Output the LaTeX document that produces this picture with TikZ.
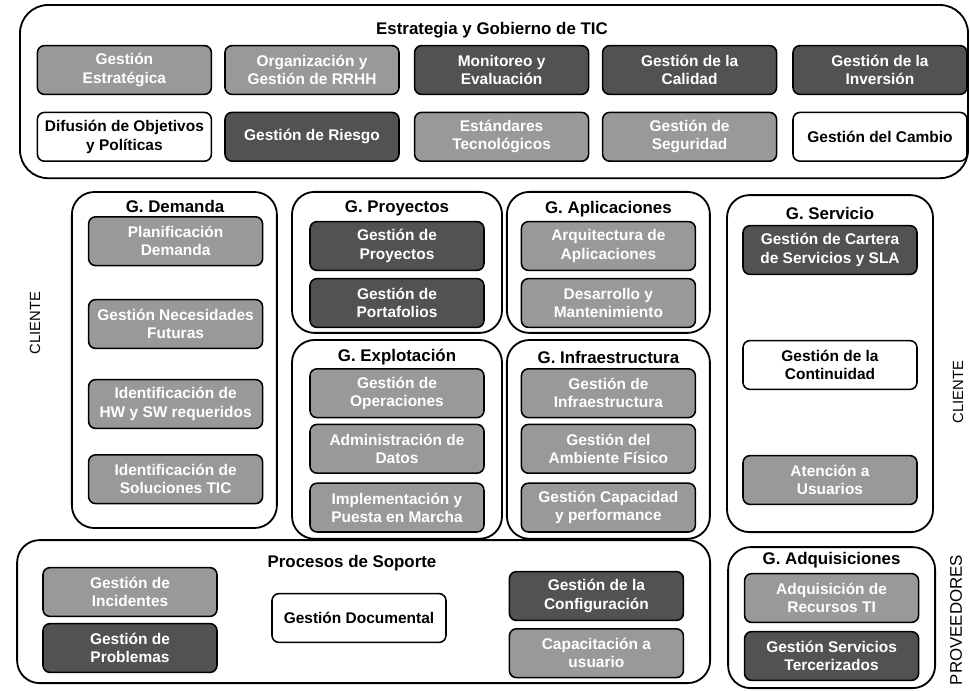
\documentclass[tikz,border=0pt]{standalone}
\usepackage{fontspec}
\setmainfont{Liberation Sans}
\begin{document}
\begin{tikzpicture}[
        proc/.style={draw, rectangle, rounded corners=5pt, line width=1.1pt, minimum width=4.35cm, minimum height=1.22cm, align=center, inner sep=2pt, font=\fontsize{11}{13}\selectfont\bfseries},
        oscuro/.style={proc, fill=black!68, text=white},
        claro/.style={proc, fill=black!40, text=white},
        blanco/.style={proc, fill=white},
        grupo/.style={draw, rectangle, rounded corners=16pt, line width=1.3pt},
        titulo/.style={font=\fontsize{12}{14}\selectfont\bfseries},
        lado/.style={rotate=90, font=\fontsize{10.5}{12}\selectfont}
    ]
    \useasboundingbox (0,0) rectangle (24.275,-17.25);

    % Explicit coordinates for the frames
    \node[grupo, rounded corners=20pt, minimum width=23.7cm, minimum height=4.33cm] (estr) at (12.35,-2.29) {};
    \node[grupo, minimum width=5.125cm, minimum height=8.4cm] (dem) at (4.36,-9.0) {};
    \node[grupo, minimum width=5.25cm, minimum height=3.525cm] (proy) at (9.925,-6.56) {};
    \node[grupo, minimum width=5.25cm, minimum height=4.97cm] (expl) at (9.925,-10.985) {};
    \node[grupo, minimum width=5.075cm, minimum height=3.525cm] (apl) at (15.21,-6.56) {};
    \node[grupo, minimum width=5.075cm, minimum height=4.97cm] (infra) at (15.21,-10.985) {};
    \node[grupo, minimum width=5.15cm, minimum height=8.425cm] (serv) at (20.75,-9.09) {};
    \node[grupo, minimum width=17.325cm, minimum height=3.575cm] (sop) at (9.09,-15.29) {};
    \node[grupo, minimum width=5.175cm, minimum height=3.525cm] (adq) at (20.79,-15.44) {};

    % Titles
    \node[titulo] (testr) at (12.3,-0.75) {Estrategia y Gobierno de TIC};
    \node[titulo] (tdem) at (4.375,-5.15) {G. Demanda};
    \node[titulo] (tproy) at (9.925,-5.22) {G. Proyectos};
    \node[titulo] (texpl) at (9.925,-8.93) {G. Explotación};
    \node[titulo] (tapl) at (15.21,-5.22) {G. Aplicaciones};
    \node[titulo] (tinfra) at (15.21,-8.93) {G. Infraestructura};
    \node[titulo] (tserv) at (20.75,-5.33) {G. Servicio};
    \node[titulo] (tsop) at (8.8,-14.08) {Procesos de Soporte};
    \node[titulo] (tadq) at (20.79,-14.0) {G. Adquisiciones};

    % Estrategia y Gobierno
    \node[claro] (gest) at (3.11,-1.75) {Gestión\\Estratégica};
    \node[claro] (org) at (7.8,-1.75) {Organización y\\Gestión de RRHH};
    \node[oscuro] (mon) at (12.54,-1.75) {Monitoreo y\\Evaluación};
    \node[oscuro] (cal) at (17.24,-1.75) {Gestión de la\\Calidad};
    \node[oscuro] (inv) at (22.0,-1.75) {Gestión de la\\Inversión};
    \node[blanco] (dif) at (3.11,-3.42) {Difusión de Objetivos\\y Políticas};
    \node[oscuro] (rie) at (7.8,-3.42) {Gestión de Riesgo};
    \node[claro] (est) at (12.54,-3.42) {Estándares\\Tecnológicos};
    \node[claro] (seg) at (17.24,-3.42) {Gestión de\\Seguridad};
    \node[blanco] (cam) at (22.0,-3.42) {Gestión del Cambio};

    % Demanda
    \node[claro] (plan) at (4.39,-6.03) {Planificación\\Demanda};
    \node[claro] (nec) at (4.39,-8.1) {Gestión Necesidades\\Futuras};
    \node[claro] (hw) at (4.39,-10.1) {Identificación de\\HW y SW requeridos};
    \node[claro] (sol) at (4.39,-11.98) {Identificación de\\Soluciones TIC};

    % Proyectos y Explotación
    \node[oscuro] (gproy) at (9.925,-6.15) {Gestión de\\Proyectos};
    \node[oscuro] (port) at (9.925,-7.575) {Gestión de\\Portafolios};
    \node[claro] (oper) at (9.925,-9.83) {Gestión de\\Operaciones};
    \node[claro] (dat) at (9.925,-11.22) {Administración de\\Datos};
    \node[claro] (impl) at (9.925,-12.69) {Implementación y\\Puesta en Marcha};

    % Aplicaciones e Infraestructura
    \node[claro] (arq) at (15.21,-6.15) {Arquitectura de\\Aplicaciones};
    \node[claro] (des) at (15.21,-7.575) {Desarrollo y\\Mantenimiento};
    \node[claro] (ginf) at (15.21,-9.83) {Gestión de\\Infraestructura};
    \node[claro] (amb) at (15.21,-11.22) {Gestión del\\Ambiente Físico};
    \node[claro] (capa) at (15.21,-12.69) {Gestión Capacidad\\y performance};

    % Servicio
    \node[oscuro] (cart) at (20.75,-6.25) {Gestión de Cartera\\de Servicios y SLA};
    \node[blanco] (cont) at (20.75,-9.125) {Gestión de la\\Continuidad};
    \node[claro] (aten) at (20.75,-12.0) {Atención a\\Usuarios};

    % Soporte
    \node[claro] (inc) at (3.25,-14.8) {Gestión de\\Incidentes};
    \node[oscuro] (prob) at (3.25,-16.2) {Gestión de\\Problemas};
    \node[blanco] (doc) at (8.975,-15.45) {Gestión Documental};
    \node[oscuro] (conf) at (14.91,-14.9) {Gestión de la\\Configuración};
    \node[claro] (capu) at (14.91,-16.33) {Capacitación a\\usuario};

    % Adquisiciones
    \node[claro] (rec) at (20.79,-14.95) {Adquisición de\\Recursos TI};
    \node[oscuro] (terc) at (20.79,-16.4) {Gestión Servicios\\Tercerizados};

    % Side labels
    \node[lado] (cli1) at (0.875,-8.075) {CLIENTE};
    \node[lado] (cli2) at (23.95,-9.8) {CLIENTE};
    \node[lado, font=\fontsize{12}{14}\selectfont] (prov) at (23.9,-15.5) {PROVEEDORES};

    \end{tikzpicture}
\end{document}
